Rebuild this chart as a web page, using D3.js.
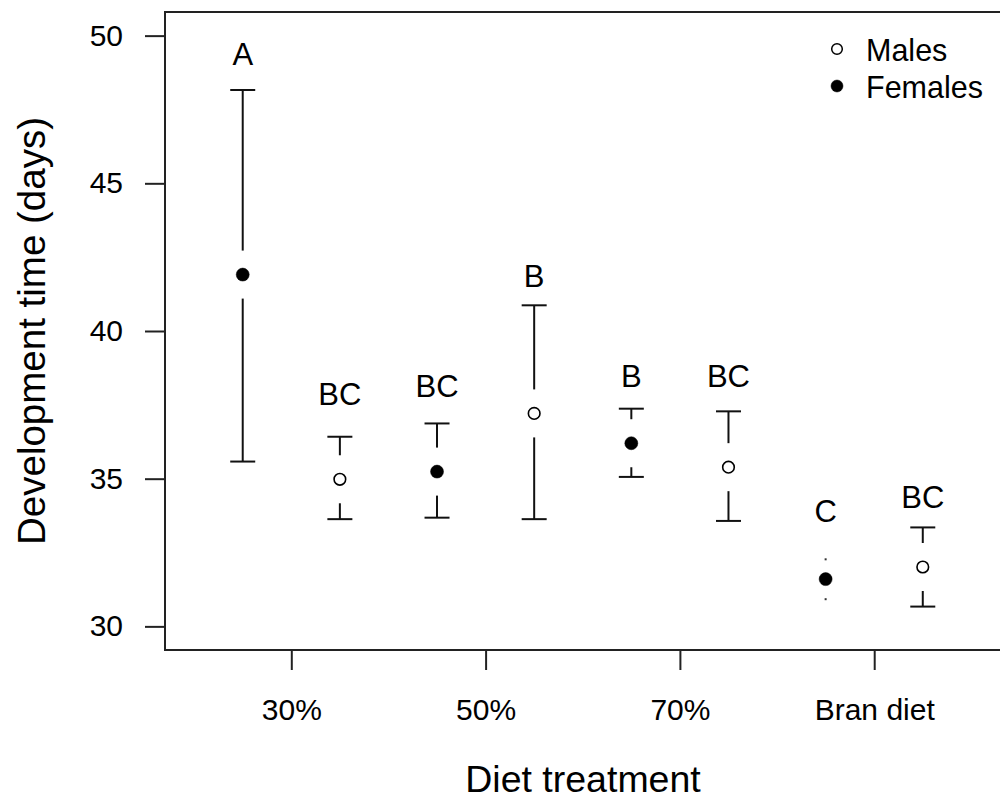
<!DOCTYPE html>
<html>
<head>
<meta charset="utf-8">
<script src="https://cdn.jsdelivr.net/npm/d3@7"></script>
<style>
  body { margin: 0; background: #fff; }
  text { font-family: "Liberation Sans", Arial, sans-serif; fill: #000; }
</style>
</head>
<body>
<svg width="1000" height="800"></svg>
<script>
// values (one entry per bar, left to right)
var treatments = ["30%", "50%", "70%", "Bran diet"];
var sexes = ["Female", "Male", "Female", "Male", "Female", "Male", "Female", "Male"];
var means = [41.91, 34.98, 35.24, 37.21, 36.20, 35.39, 31.60, 32.01];
var upper = [48.16, 36.42, 36.87, 40.87, 37.37, 37.28, 32.27, 33.35];
var lower = [35.58, 33.63, 33.68, 33.63, 35.06, 33.57, 30.92, 30.67];
var letters = ["A", "BC", "BC", "B", "B", "BC", "C", "BC"];
var letterY = [49.0, 37.5, 37.75, 41.5, 38.1, 38.1, 33.55, 34.0];
var yTicks = [30, 35, 40, 45, 50];
var legendItems = ["Males", "Females"];

var svg = d3.select("svg"),
    plotL = 165, plotR = 1001, plotT = 12, plotB = 650;

var x = d3.scaleLinear().domain([0.2, 8.8]).range([plotL, plotR - 0.5]);
var y = d3.scaleLinear().domain([29.2, 50.8]).range([plotB, plotT]);

var gap = 24, capW = 12.5;

var data = means.map(function(m, i) {
  return { pos: i + 1, mean: m, hi: upper[i], lo: lower[i], sex: sexes[i], letter: letters[i], ly: letterY[i] };
});

// axes
var yAxis = svg.append("g")
    .attr("transform", "translate(" + plotL + ",0)")
    .call(d3.axisLeft(y).tickValues(yTicks).tickSize(20).tickPadding(22));
yAxis.select(".domain").remove();
yAxis.selectAll("line").attr("stroke", "#222").attr("stroke-width", 2);
yAxis.selectAll("text").style("font-size", "30px").attr("fill", "#000");

var xAxis = svg.append("g")
    .attr("transform", "translate(0," + plotB + ")")
    .call(d3.axisBottom(x)
      .tickValues(treatments.map(function(t, k) { return 2 * k + 1.5; }))
      .tickFormat(function(d, k) { return treatments[k]; })
      .tickSize(20).tickPadding(29));
xAxis.select(".domain").remove();
xAxis.selectAll("line").attr("stroke", "#222").attr("stroke-width", 2);
xAxis.selectAll("text").style("font-size", "30px").attr("fill", "#000");

// frame
svg.append("rect")
    .attr("x", plotL).attr("y", plotT)
    .attr("width", plotR - plotL).attr("height", plotB - plotT)
    .attr("fill", "none").attr("stroke", "#222").attr("stroke-width", 2);

// axis titles
svg.append("text")
    .attr("x", (plotL + plotR) / 2).attr("y", 792)
    .attr("text-anchor", "middle")
    .style("font-size", "37.5px")
    .text("Diet treatment");

svg.append("text")
    .attr("transform", "translate(45," + ((plotT + plotB) / 2) + ") rotate(-90)")
    .attr("text-anchor", "middle")
    .style("font-size", "38.5px")
    .text("Development time (days)");

// error bars with a gap around the point
var bars = svg.append("g").selectAll("g")
    .data(data)
    .enter().append("g");

bars.each(function(d) {
  var g = d3.select(this),
      cx = x(d.pos), cy = y(d.mean);
  [d.hi, d.lo].forEach(function(v) {
    var ey = y(v),
        dir = ey < cy ? -1 : 1;
    if (Math.abs(ey - cy) > gap) {
      g.append("line")
          .attr("x1", cx).attr("x2", cx)
          .attr("y1", cy + dir * gap).attr("y2", ey)
          .attr("stroke", "#111").attr("stroke-width", 2);
      g.append("line")
          .attr("x1", cx - capW).attr("x2", cx + capW)
          .attr("y1", ey).attr("y2", ey)
          .attr("stroke", "#111").attr("stroke-width", 2);
    } else {
      // interval shorter than the gap: only a speck is left
      g.append("rect")
          .attr("x", cx - 1).attr("y", ey - 1)
          .attr("width", 2).attr("height", 2)
          .attr("fill", "#333");
    }
  });
});

bars.append("circle")
    .attr("cx", function(d) { return x(d.pos); })
    .attr("cy", function(d) { return y(d.mean); })
    .attr("r", function(d) { return d.sex === "Female" ? 6.5 : 5.8; })
    .attr("fill", function(d) { return d.sex === "Female" ? "#000" : "#fff"; })
    .attr("stroke", "#000")
    .attr("stroke-width", function(d) { return d.sex === "Female" ? 0.5 : 1.6; });

bars.append("text")
    .attr("x", function(d) { return x(d.pos); })
    .attr("y", function(d) { return y(d.ly); })
    .attr("text-anchor", "middle")
    .style("font-size", "31px")
    .text(function(d) { return d.letter; });

// legend
var legend = svg.append("g").selectAll("g")
    .data(legendItems)
    .enter().append("g")
    .attr("transform", function(d, i) { return "translate(837," + (49 + i * 37) + ")"; });

legend.append("circle")
    .attr("r", function(d) { return d === "Females" ? 6 : 5.3; })
    .attr("fill", function(d) { return d === "Females" ? "#000" : "#fff"; })
    .attr("stroke", "#000")
    .attr("stroke-width", function(d) { return d === "Females" ? 0.5 : 1.5; });

legend.append("text")
    .attr("x", 29).attr("y", 12)
    .style("font-size", "30.5px")
    .text(function(d) { return d; });
</script>
</body>
</html>
